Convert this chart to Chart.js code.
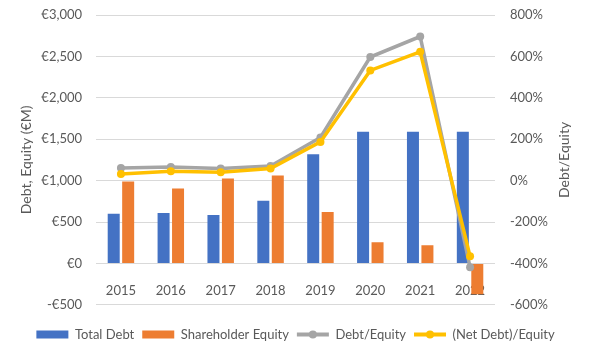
<!DOCTYPE html>
<html>
<head>
<meta charset="utf-8">
<script src="https://cdn.jsdelivr.net/npm/chart.js@4.4.1/dist/chart.umd.min.js"></script>
<style>
  body { margin: 0; background: #fff; }
  #wrap { width: 591px; height: 348px; }
</style>
</head>
<body>
<div id="wrap"><canvas id="debtChart" width="591" height="348"></canvas></div>
<script>
const years = ['2015', '2016', '2017', '2018', '2019', '2020', '2021', '2022'];
const totalDebt = [601, 610, 585, 756, 1317, 1590, 1590, 1590];
const equity = [988, 906, 1024, 1061, 622, 256, 220, -374];
const debtToEquity = [61, 66, 58, 70, 208, 597, 696, -418];
const netDebtToEquity = [32, 45, 40, 58, 187, 532, 622, -366];

const grey = '#595959';
const font = { family: 'Lato', size: 13 };

const euro = (v) => (v < 0 ? '-€' : '€') + Math.abs(v).toLocaleString('en-US');

// fixed axis width, and no extra room reserved for the end labels
const fitSide = (s) => {
  s.width = 96;
  s.paddingTop = 0;
  s.paddingBottom = 0;
};

// line series get a line-with-dot marker in the legend instead of a box
const legendMarkers = {
  id: 'legendMarkers',
  afterDraw(chart) {
    const legend = chart.legend;
    if (!legend || !legend.legendHitBoxes) return;
    const ctx = chart.ctx;
    legend.legendItems.forEach((item, i) => {
      const ds = chart.data.datasets[item.datasetIndex];
      if (ds.type !== 'line') return;
      const box = legend.legendHitBoxes[i];
      const y = box.top + box.height / 2;
      const w = legend.options.labels.boxWidth;
      ctx.save();
      ctx.strokeStyle = ds.borderColor;
      ctx.lineWidth = 4;
      ctx.beginPath();
      ctx.moveTo(box.left, y);
      ctx.lineTo(box.left + w, y);
      ctx.stroke();
      ctx.fillStyle = ds.borderColor;
      ctx.beginPath();
      ctx.arc(box.left + w / 2, y, 4, 0, Math.PI * 2);
      ctx.fill();
      ctx.restore();
    });
  },
};

// secondary axis title, reading bottom to top like the primary one
const rightTitle = {
  id: 'rightTitle',
  afterDraw(chart) {
    const s = chart.scales.y1;
    const area = chart.chartArea;
    const ctx = chart.ctx;
    ctx.save();
    ctx.translate(s.right - 27, (area.top + area.bottom) / 2);
    ctx.rotate(-Math.PI / 2);
    ctx.font = '14px Lato';
    ctx.fillStyle = grey;
    ctx.textAlign = 'center';
    ctx.textBaseline = 'middle';
    ctx.fillText('Debt/Equity', 0, 0);
    ctx.restore();
  },
};

new Chart(document.getElementById('debtChart'), {
  data: {
    labels: years,
    datasets: [
      {
        type: 'bar',
        label: 'Total Debt',
        data: totalDebt,
        backgroundColor: '#4472C4',
        yAxisID: 'y',
        order: 2,
        categoryPercentage: 0.58,
        barPercentage: 0.83,
      },
      {
        type: 'bar',
        label: 'Shareholder Equity',
        data: equity,
        backgroundColor: '#ED7D31',
        yAxisID: 'y',
        order: 2,
        categoryPercentage: 0.58,
        barPercentage: 0.83,
      },
      {
        type: 'line',
        label: 'Debt/Equity',
        data: debtToEquity,
        borderColor: '#A5A5A5',
        backgroundColor: '#A5A5A5',
        borderWidth: 3.5,
        pointRadius: 4,
        pointBackgroundColor: '#A5A5A5',
        pointBorderWidth: 0,
        tension: 0,
        yAxisID: 'y1',
        order: 1,
      },
      {
        type: 'line',
        label: '(Net Debt)/Equity',
        data: netDebtToEquity,
        borderColor: '#FFC000',
        backgroundColor: '#FFC000',
        borderWidth: 3.5,
        pointRadius: 4,
        pointBackgroundColor: '#FFC000',
        pointBorderWidth: 0,
        tension: 0,
        yAxisID: 'y1',
        order: 0,
      },
    ],
  },
  options: {
    responsive: false,
    animation: false,
    layout: { padding: { top: 15, left: 0, right: 0, bottom: -3 } },
    plugins: {
      tooltip: { enabled: false },
      legend: {
        position: 'bottom',
        title: { display: true, text: ' ', font: { size: 1 }, padding: { top: 14, bottom: 0 } },
        labels: {
          font,
          color: grey,
          boxWidth: 32,
          boxHeight: 8,
          padding: 8,
          sort: (a, b) => a.datasetIndex - b.datasetIndex,
          generateLabels(chart) {
            const items = Chart.defaults.plugins.legend.labels.generateLabels(chart);
            items.forEach((it) => {
              if (chart.data.datasets[it.datasetIndex].type === 'line') {
                it.fillStyle = 'rgba(0,0,0,0)';
                it.strokeStyle = 'rgba(0,0,0,0)';
                it.lineWidth = 0;
              }
            });
            return items;
          },
        },
      },
    },
    scales: {
      x: {
        position: { y: 0 },
        grid: { display: false },
        border: { display: false },
        ticks: { font, color: grey, padding: 12 },
      },
      y: {
        position: 'left',
        min: -500,
        max: 3000,
        afterFit: fitSide,
        ticks: { stepSize: 500, font, color: grey, padding: 14, callback: euro },
        grid: { color: '#D9D9D9', drawTicks: false },
        border: { display: false },
        title: { display: true, text: 'Debt, Equity (€M)', font: { family: 'Lato', size: 14 }, color: grey, padding: { top: 18, bottom: 0 } },
      },
      y1: {
        position: 'right',
        min: -600,
        max: 800,
        afterFit: fitSide,
        ticks: { stepSize: 200, font, color: grey, padding: 15, callback: (v) => v + '%' },
        grid: { display: false, drawTicks: false },
        border: { display: false },
      },
    },
  },
  plugins: [legendMarkers, rightTitle],
});
</script>
</body>
</html>
